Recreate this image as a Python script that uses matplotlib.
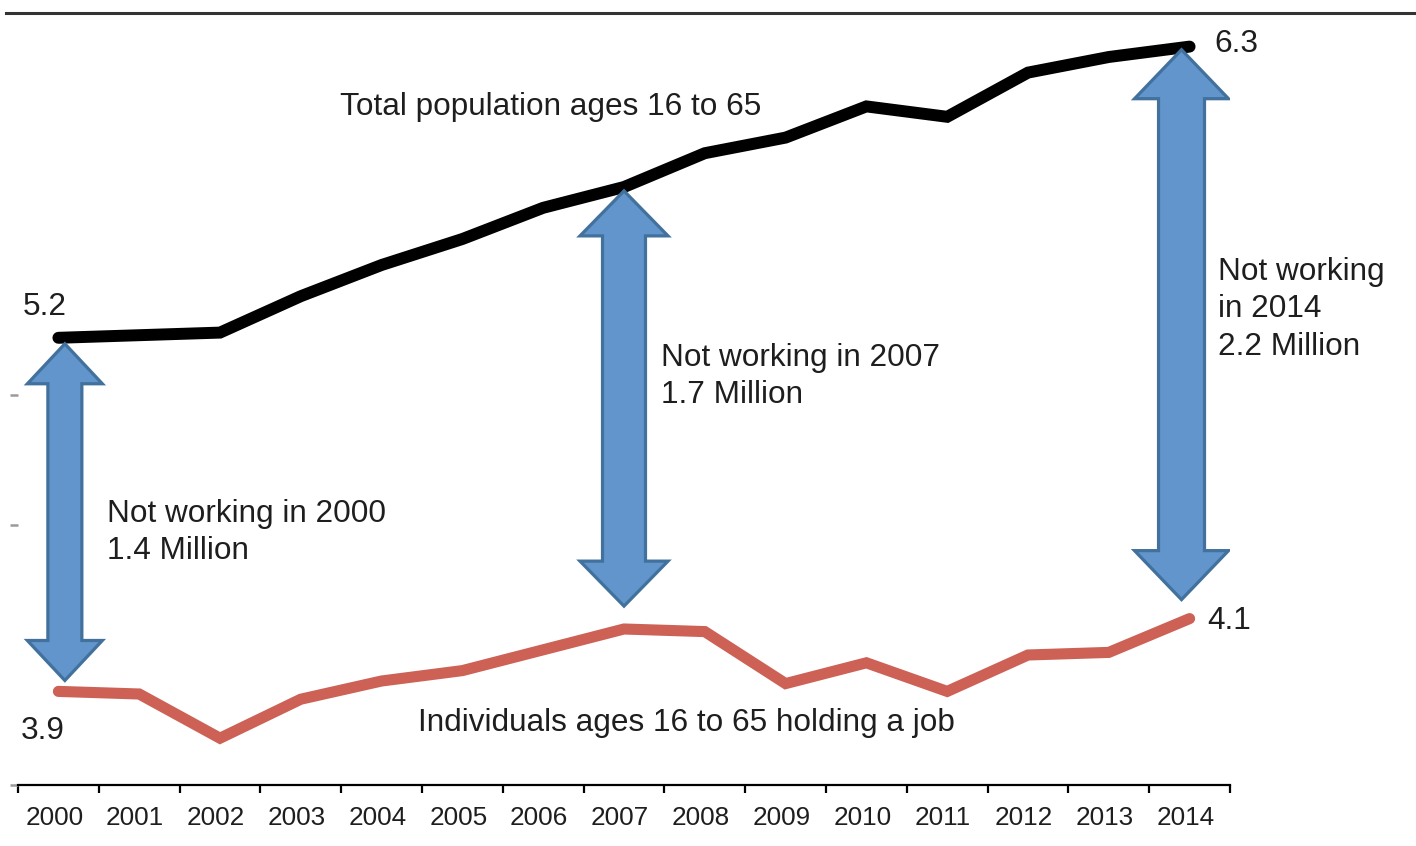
import numpy as np
import matplotlib
matplotlib.use("Agg")
import matplotlib.pyplot as plt
from matplotlib.patches import Polygon
from matplotlib.lines import Line2D

# Population ages 16-65 and those holding a job (millions)
years = [2000, 2001, 2002, 2003, 2004, 2005, 2006, 2007,
         2008, 2009, 2010, 2011, 2012, 2013, 2014]
total_population = [5.22, 5.23, 5.24, 5.38, 5.50, 5.60, 5.72, 5.80,
                    5.93, 5.99, 6.11, 6.07, 6.24, 6.30, 6.34]
holding_job = [3.86, 3.85, 3.68, 3.83, 3.90, 3.94, 4.02, 4.10,
               4.09, 3.89, 3.97, 3.86, 4.00, 4.01, 4.14]
gap_years = [2000, 2007, 2014]
gap_templates = ["Not working in {yr}\n{gap:.1f} Million",
                 "Not working in {yr}\n{gap:.1f} Million",
                 "Not working\nin {yr}\n{gap:.1f} Million"]

plt.rcParams['font.family'] = ['Liberation Sans', 'DejaVu Sans']
TEXT = '#1e1e1e'
LABEL_SIZE = 22.7

W, H, DPI = 1416, 846, 100
fig = plt.figure(figsize=(W / DPI, H / DPI), dpi=DPI)
ax_l, ax_b, ax_w, ax_h = 18, 61, 1212, 780
ax = fig.add_axes([ax_l / W, ax_b / H, ax_w / W, ax_h / H])

x = np.arange(len(years))
ax.set_xlim(-0.5, len(years) - 0.5)
ax.set_ylim(3.5, 6.5)

ax.plot(x, total_population, color='black', lw=8.6,
        solid_capstyle='round', solid_joinstyle='miter', zorder=3)
ax.plot(x, holding_job, color='#CD6155', lw=8.0,
        solid_capstyle='round', solid_joinstyle='miter', zorder=3)

# pixel -> data conversion for the block arrows
px_x = ax_w / (len(years))
px_y = ax_h / 3.0


def block_arrow(xc, y_top, y_bot, shaft_px, head_px, headlen_px):
    sw = shaft_px / 2 / px_x
    hw = head_px / 2 / px_x
    hl = headlen_px / px_y
    verts = [(xc, y_top), (xc + hw, y_top - hl), (xc + sw, y_top - hl),
             (xc + sw, y_bot + hl), (xc + hw, y_bot + hl), (xc, y_bot),
             (xc - hw, y_bot + hl), (xc - sw, y_bot + hl),
             (xc - sw, y_top - hl), (xc - hw, y_top - hl)]
    return Polygon(verts, closed=True, facecolor='#6195CB', edgecolor='#41719C',
                   lw=2.3, joinstyle='miter', zorder=4)


arrow_style = [  # x shift, top gap, bottom gap, shaft px, head px, head length px
    (0.08, 0.023, 0.042, 34, 75, 40),
    (0.00, 0.015, 0.088, 43, 88, 45),
    (-0.10, 0.012, 0.073, 46, 94, 49),
]
gap_text_pos = [(0.60, 4.47), (7.46, 5.07), (14.35, 5.33)]

for yr, tmpl, st, tp in zip(gap_years, gap_templates, arrow_style, gap_text_pos):
    i = years.index(yr)
    dx, gt, gb, sp, hp, hl = st
    top = total_population[i] - gt
    bot = holding_job[i] + gb
    ax.add_patch(block_arrow(x[i] + dx, top, bot, sp, hp, hl))
    gap = total_population[i] - holding_job[i]
    ax.text(tp[0], tp[1], tmpl.format(yr=yr, gap=gap), ha='left', va='center',
            fontsize=LABEL_SIZE, color=TEXT, linespacing=1.32, clip_on=False)

# series labels
ax.text(3.485, 6.108, "Total population ages 16 to 65", ha='left', va='center',
        fontsize=LABEL_SIZE, color=TEXT)
ax.text(4.45, 3.738, "Individuals ages 16 to 65 holding a job", ha='left',
        va='center', fontsize=LABEL_SIZE, color=TEXT)

# end-point value labels
ax.annotate(f"{total_population[0]:.1f}", (x[0], total_population[0]),
            xytext=(-10, 22), textcoords='offset points', ha='center',
            va='center', fontsize=LABEL_SIZE, color=TEXT)
ax.annotate(f"{holding_job[0]:.1f}", (x[0], holding_job[0]),
            xytext=(-11.5, -28.5), textcoords='offset points', ha='center',
            va='center', fontsize=LABEL_SIZE, color=TEXT)
ax.annotate(f"{total_population[-1]:.1f}", (x[-1], total_population[-1]),
            xytext=(17.5, 2), textcoords='offset points', ha='left',
            va='center', fontsize=LABEL_SIZE, color=TEXT, annotation_clip=False)
ax.annotate(f"{holding_job[-1]:.1f}", (x[-1], holding_job[-1]),
            xytext=(13, -2), textcoords='offset points', ha='left',
            va='center', fontsize=LABEL_SIZE, color=TEXT, annotation_clip=False)

# axes styling
for side in ('left', 'top', 'right'):
    ax.spines[side].set_visible(False)
ax.spines['bottom'].set_linewidth(1.6)
ax.spines['bottom'].set_color('black')

ax.set_xticks(np.arange(-0.5, len(years), 1.0))
ax.set_xticklabels([])
ax.set_xticks(x - 0.05, minor=True)
ax.set_xticklabels([str(y) for y in years], minor=True)
ax.tick_params(axis='x', which='major', length=5.5, width=1.6, color='black',
               direction='out')
ax.tick_params(axis='x', which='minor', length=0, pad=15, labelsize=18.8,
               labelcolor=TEXT)
ax.set_yticks([3.5, 4.5, 5.0])
ax.tick_params(axis='y', length=6, width=1.8, color='#9a9a9a', labelleft=False)

# rule across the top of the figure
fig.add_artist(Line2D([6 / W, 1.0], [(H - 13.5) / H, (H - 13.5) / H],
                      transform=fig.transFigure, color='#333333', lw=2.2))

fig.savefig('out.png', dpi=DPI)
